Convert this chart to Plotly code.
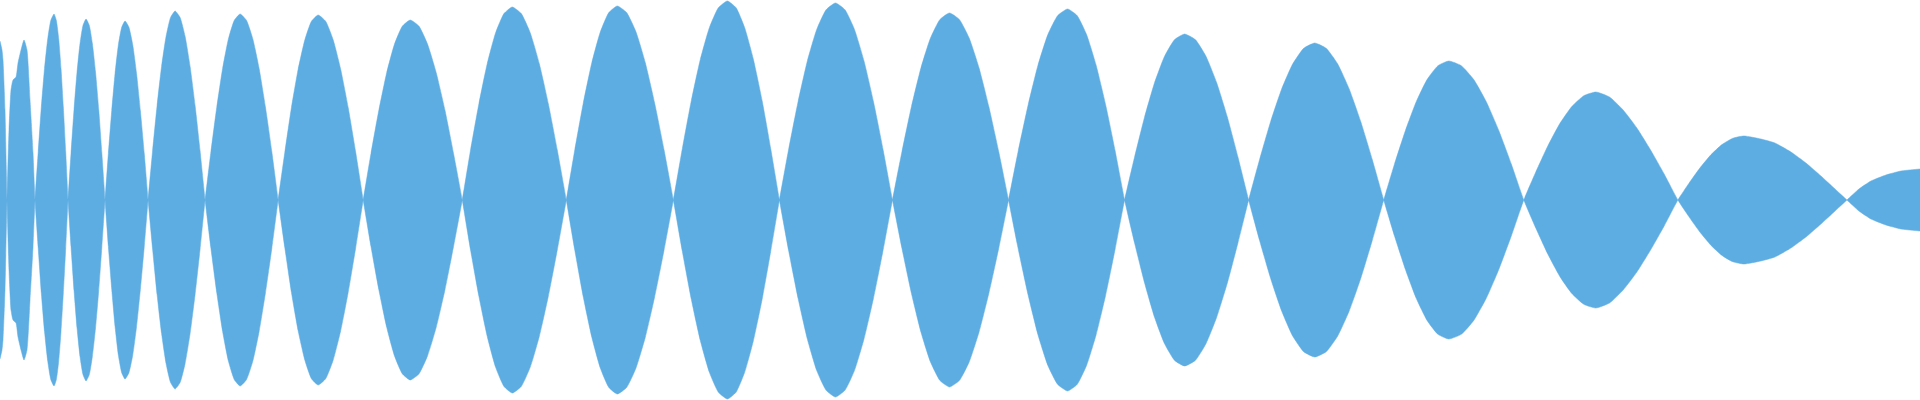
import plotly.graph_objects as go

# Sample positions (time axis), lobe by lobe
t_points = [
    0, 2, 3, 5, 7,
    9, 11, 13, 16, 18, 21, 24, 27, 30, 33, 35,
    38.2, 41.3, 44.5, 47.7, 50.8, 54, 56.3, 58.7, 61.0, 63.3, 65.7, 68,
    71, 74, 77, 80, 83, 86, 89.2, 92.3, 95.5, 98.7, 101.8, 105,
    108.3, 111.7, 115, 118.3, 121.7, 125, 128.8, 132.7, 136.5, 140.3, 144.2, 148,
    152.5, 157, 161.5, 166, 170.5, 175, 180, 185, 190, 195, 200, 205,
    210.8, 216.7, 222.5, 228.3, 234.2, 240, 246.3, 252.7, 259, 265.3, 271.7, 278,
    284.7, 291.3, 298, 304.7, 311.3, 318, 325.5, 333, 340.5, 348, 355.5, 363,
    370.8, 378.7, 386.5, 394.3, 402.2, 410, 418.7, 427.3, 436, 444.7, 453.3, 462,
    470.3, 478.7, 487, 495.3, 503.7, 512, 521, 530, 539, 548, 557, 566,
    574.5, 583, 591.5, 600, 608.5, 617, 626.3, 635.7, 645, 654.3, 663.7, 673,
    682, 691, 700, 709, 718, 727, 735.7, 744.3, 753, 761.7, 770.3, 779,
    788.3, 797.7, 807, 816.3, 825.7, 835, 844.5, 854, 863.5, 873, 882.5, 892,
    901.5, 911, 920.5, 930, 939.5, 949, 958.8, 968.7, 978.5, 988.3, 998.2, 1008,
    1017.8, 1027.7, 1037.5, 1047.3, 1057.2, 1067, 1076.5, 1086, 1095.5, 1105, 1114.5, 1124,
    1134, 1144, 1154, 1164, 1174, 1184, 1194.7, 1205.3, 1216, 1226.7, 1237.3, 1248,
    1259, 1270, 1281, 1292, 1303, 1314, 1325.5, 1337, 1348.5, 1360, 1371.5, 1383,
    1393.8, 1404.7, 1415.5, 1426.3, 1437.2, 1448, 1460.5, 1473, 1485.5, 1498, 1510.5, 1523,
    1535, 1547, 1559, 1571, 1583, 1595, 1608.7, 1622.3, 1636, 1649.7, 1663.3, 1677,
    1688, 1699, 1710, 1721, 1732, 1743, 1760, 1774, 1790, 1805, 1820, 1833, 1846,
    1858, 1870, 1885, 1900, 1919,
]

# Signed signal values at those positions (0 at zero crossings)
signal = [
    159, 150, 140, 90, 0,
    -70, -110, -120, -123, -137, -150, -160, -150, -100, -47, 0,
    48.2, 93, 131.5, 161.1, 179.7, 186, 179.7, 161.1, 131.5, 93, 48.2, 0,
    -46.9, -90.5, -128.0, -156.7, -174.8, -181, -174.8, -156.7, -128.0, -90.5, -46.9, 0,
    46.4, 89.5, 126.6, 155.0, 172.9, 179, 172.9, 155.0, 126.6, 89.5, 46.4, 0,
    -49.0, -94.5, -133.6, -163.7, -182.6, -189, -182.6, -163.7, -133.6, -94.5, -49.0, 0,
    48.2, 93, 131.5, 161.1, 179.7, 186, 179.7, 161.1, 131.5, 93, 48.2, 0,
    -47.9, -92.5, -130.8, -160.2, -178.7, -185, -178.7, -160.2, -130.8, -92.5, -47.9, 0,
    46.6, 90, 127.3, 155.9, 173.9, 180, 173.9, 155.9, 127.3, 90, 46.6, 0,
    -50.0, -96.5, -136.5, -167.1, -186.4, -193, -186.4, -167.1, -136.5, -96.5, -50.0, 0,
    50.2, 97, 137.2, 168.0, 187.4, 194, 187.4, 168.0, 137.2, 97, 50.2, 0,
    -51.5, -99.5, -140.7, -172.3, -192.2, -199, -192.2, -172.3, -140.7, -99.5, -51.5, 0,
    51.0, 98.5, 139.3, 170.6, 190.3, 197, 190.3, 170.6, 139.3, 98.5, 51.0, 0,
    -48.4, -93.5, -132.2, -161.9, -180.6, -187, -180.6, -161.9, -132.2, -93.5, -48.4, 0,
    49.5, 95.5, 135.0, 165.4, 184.5, 191, 184.5, 165.4, 135.0, 95.5, 49.5, 0,
    -43.0, -83, -117.4, -143.8, -160.4, -166, -160.4, -143.8, -117.4, -83, -43.0, 0,
    40.7, 78.5, 111.0, 136.0, 151.7, 157, 151.7, 136.0, 111.0, 78.5, 40.7, 0,
    -36.0, -69.5, -98.3, -120.4, -134.3, -139, -134.3, -120.4, -98.3, -69.5, -36.0, 0,
    28.0, 54, 76.4, 93.5, 104.3, 108, 103, 90, 72, 50, 26, 0,
    -16.6, -32, -45.2, -55.4, -61.8, -64, -61, -57, -48, -37, -24, -12, 0,
    11, 19, 25, 29, 31,
]

mirrored = [-v for v in signal]

color = "#5DADE2"

fig = go.Figure()
fig.add_trace(go.Scatter(
    x=t_points, y=signal, mode="lines",
    line=dict(color=color, width=0.5, shape="spline", smoothing=0.5),
    hoverinfo="skip", showlegend=False,
))
fig.add_trace(go.Scatter(
    x=t_points, y=mirrored, mode="lines", fill="tonexty", fillcolor=color,
    line=dict(color=color, width=0.5, shape="spline", smoothing=0.5),
    hoverinfo="skip", showlegend=False,
))

fig.update_layout(
    width=1920, height=400,
    margin=dict(l=0, r=0, t=0, b=0),
    paper_bgcolor="white", plot_bgcolor="white",
    xaxis=dict(visible=False, range=[0, 1919]),
    yaxis=dict(visible=False, range=[-200, 200]),
)

fig.write_html("out.html", config={"displayModeBar": False},
               post_script="document.body.style.margin='0';")
